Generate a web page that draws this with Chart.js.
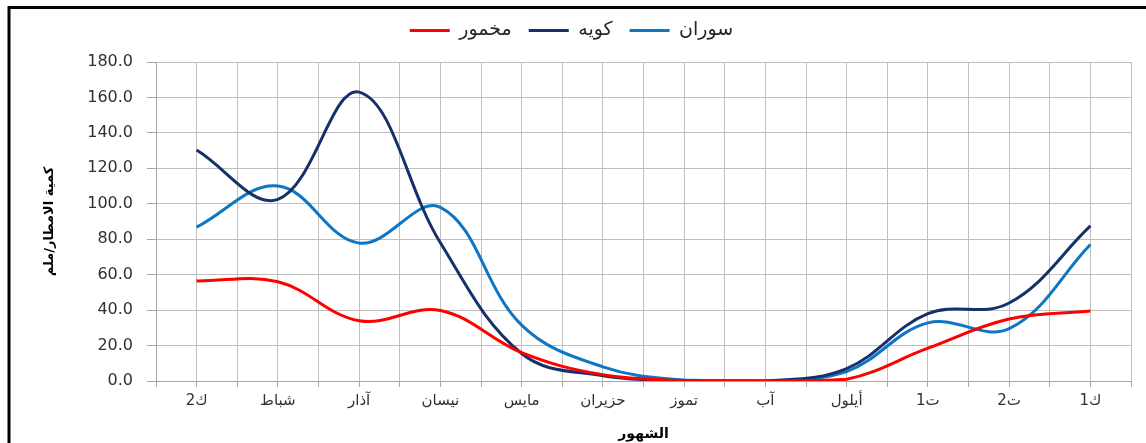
<!DOCTYPE html>
<html>
<head>
<meta charset="utf-8">
<script src="https://cdn.jsdelivr.net/npm/chart.js@4.4.1/dist/chart.umd.min.js"></script>
<style>
  html, body { margin: 0; padding: 0; background: #ffffff; }
  #wrap { width: 1146px; height: 443px; position: relative; }
</style>
</head>
<body>
<div id="wrap"><canvas id="c" width="1146" height="443"></canvas></div>
<script>
const months = ["ك2", "شباط", "آذار", "نيسان", "مايس", "حزيران", "تموز", "آب", "أيلول", "ت1", "ت2", "ك1"];
const makhmur = [56.5, 56.0, 34.0, 39.8, 16.0, 3.5, 0.3, 0.0, 1.0, 18.5, 35.0, 39.5];
const koya    = [130.3, 102.5, 163.0, 78.0, 15.5, 3.0, 0.2, 0.0, 7.0, 38.0, 44.0, 87.5];
const soran   = [86.8, 110.0, 77.8, 98.0, 31.5, 8.0, 0.5, 0.0, 5.3, 32.8, 29.5, 77.0];
const yTicks  = [0, 20, 40, 60, 80, 100, 120, 140, 160, 180];
const seriesNames = ["مخمور", "كويه", "سوران"];
const seriesColors = ["#FF0000", "#15306A", "#0E76C2"];

const toXY = arr => arr.map((v, i) => ({ x: i, y: v }));

const framePlugin = {
  id: 'frame',
  afterDraw(chart) {
    const ctx = chart.ctx;
    ctx.save();
    ctx.strokeStyle = '#000';
    ctx.lineWidth = 3;
    ctx.beginPath();
    ctx.moveTo(9, 443);
    ctx.lineTo(9, 7.5);
    ctx.lineTo(1146, 7.5);
    ctx.stroke();
    ctx.restore();
  }
};

const spacerPlugin = {
  id: 'spacer',
  beforeInit(chart) {
    const box = {
      position: 'top', weight: 100, fullSize: true,
      options: {},
      top: 0, left: 0, right: 0, bottom: 0, width: 0, height: 0,
      isHorizontal() { return true; },
      update(maxW) { this.width = maxW; this.height = 12; },
      draw() {}
    };
    Chart.layouts.addBox(chart, box);
  }
};

new Chart(document.getElementById('c'), {
  type: 'line',
  data: {
    datasets: [
      { label: seriesNames[0], data: toXY(makhmur), borderColor: seriesColors[0], backgroundColor: seriesColors[0] },
      { label: seriesNames[1], data: toXY(koya), borderColor: seriesColors[1], backgroundColor: seriesColors[1] },
      { label: seriesNames[2], data: toXY(soran), borderColor: seriesColors[2], backgroundColor: seriesColors[2] }
    ]
  },
  options: {
    responsive: false,
    animation: false,
    devicePixelRatio: 1,
    layout: { padding: { top: 4, left: 12, right: 15, bottom: 0 } },
    elements: {
      line: { borderWidth: 3, tension: 0.38, fill: false },
      point: { radius: 0, hoverRadius: 0 }
    },
    plugins: {
      tooltip: { enabled: false },
      legend: {
        position: 'top',
        align: 'center',
        labels: {
          usePointStyle: true,
          pointStyle: 'line',
          pointStyleWidth: 40,
          color: '#262626',
          font: { family: 'DejaVu Sans', size: 19 },
          padding: 17,
          generateLabels: chart => chart.data.datasets.map((ds, i) => ({
            text: ds.label,
            strokeStyle: ds.borderColor,
            fillStyle: ds.borderColor,
            lineWidth: 3,
            pointStyle: 'line',
            hidden: false,
            datasetIndex: i,
            fontColor: '#262626'
          }))
        }
      }
    },
    scales: {
      x: {
        type: 'linear',
        min: -0.5,
        max: 11.5,
        afterFit: s => { s.height = 62; },
        afterBuildTicks: s => {
          const t = [];
          for (let i = -1; i <= 23; i++) t.push({ value: i / 2 });
          s.ticks = t;
        },
        ticks: {
          autoSkip: false,
          maxRotation: 0,
          minRotation: 0,
          padding: 5,
          color: '#303030',
          font: { family: 'DejaVu Sans', size: 15 },
          callback: v => (Number.isInteger(v) && v >= 0 && v < months.length) ? months[v] : ''
        },
        grid: { color: '#BFBFBF', lineWidth: 1, drawTicks: true, tickLength: 6, tickColor: '#A6A6A6' },
        border: { color: '#A6A6A6', width: 1 },
        title: {
          display: true,
          text: 'الشهور',
          color: '#000',
          font: { family: 'DejaVu Sans', size: 14, weight: 'bold' },
          padding: { top: 2, bottom: 0 }
        }
      },
      y: {
        min: 0,
        max: 180,
        afterFit: s => { s.width = 144; },
        afterBuildTicks: s => { s.ticks = yTicks.map(v => ({ value: v })); },
        ticks: {
          padding: 14,
          color: '#303030',
          font: { family: 'DejaVu Sans', size: 16 },
          callback: v => Number(v).toFixed(1)
        },
        grid: { color: '#BFBFBF', lineWidth: 1, drawTicks: true, tickLength: 9, tickColor: '#A6A6A6' },
        border: { color: '#A6A6A6', width: 1 },
        title: {
          display: true,
          text: 'كمية الامطار/ملم',
          color: '#000',
          font: { family: 'DejaVu Sans', size: 13, weight: 'bold' },
          padding: { top: 30, bottom: 0 }
        }
      }
    }
  },
  plugins: [framePlugin, spacerPlugin]
});
</script>
</body>
</html>
